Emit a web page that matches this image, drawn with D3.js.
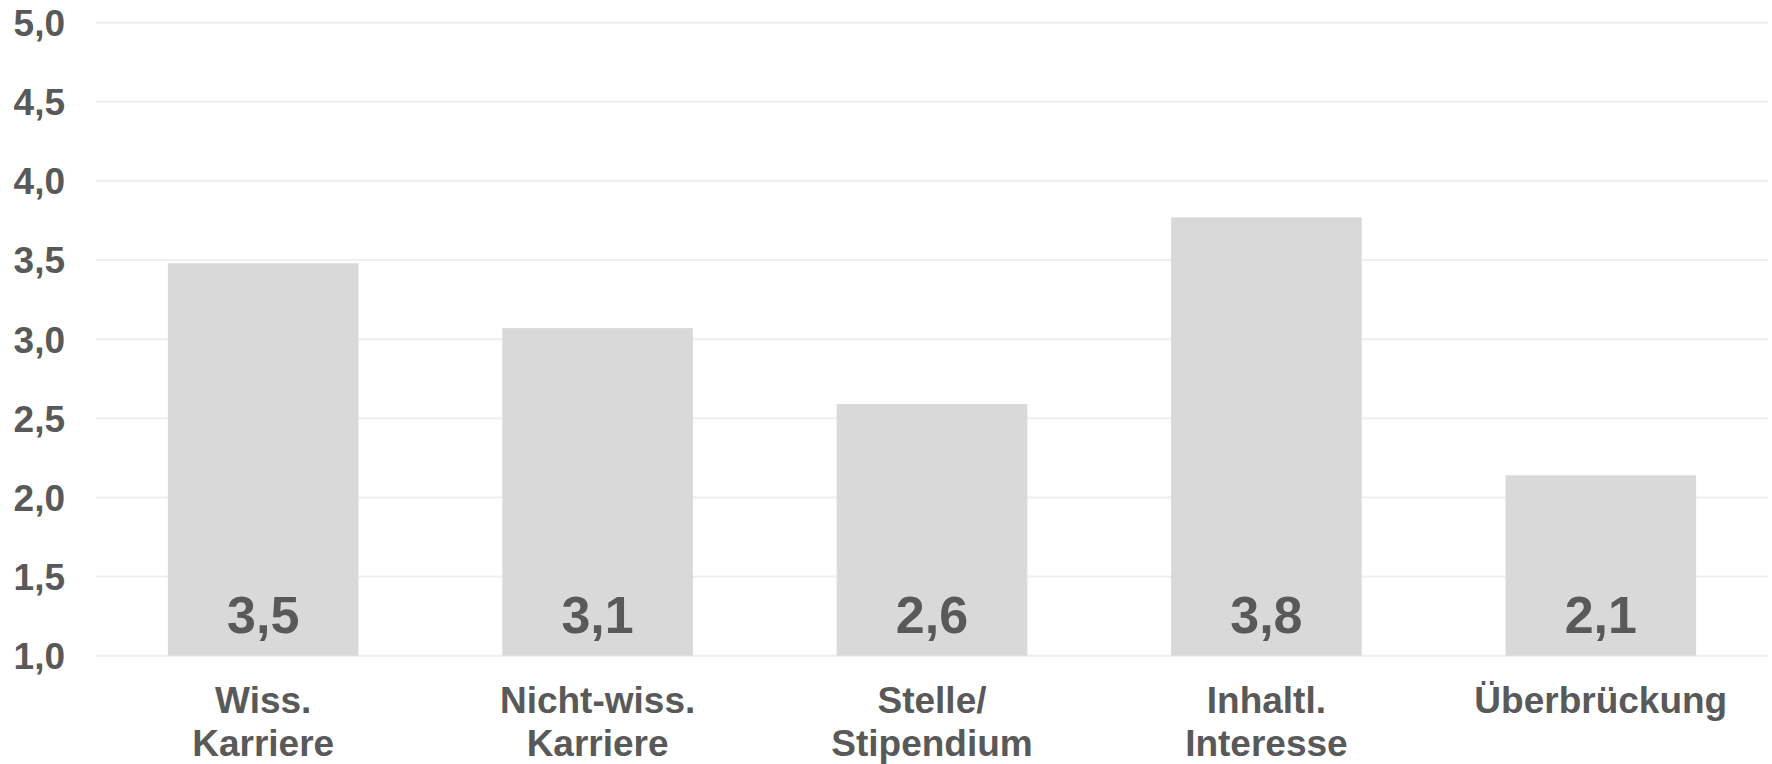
<!DOCTYPE html>
<html>
<head>
<meta charset="utf-8">
<script src="https://cdn.jsdelivr.net/npm/d3@7"></script>
<style>
  html, body { margin: 0; padding: 0; background: #fff; }
  svg text { font-family: "Liberation Sans", Arial, sans-serif; font-weight: bold; fill: #595959; }
</style>
</head>
<body>
<div id="chart"></div>
<script>
// ---- Data ----------------------------------------------------------------
var categories = [['Wiss.', 'Karriere'], ['Nicht-wiss.', 'Karriere'], ['Stelle/', 'Stipendium'], ['Inhaltl.', 'Interesse'], ['Überbrückung']];
var values = [3.48, 3.07, 2.59, 3.77, 2.14];
var valueLabels = ['3,5', '3,1', '2,6', '3,8', '2,1'];
var yTicks = [1.0, 1.5, 2.0, 2.5, 3.0, 3.5, 4.0, 4.5, 5.0];

// ---- Layout --------------------------------------------------------------
var W = 1772, H = 764;
var margin = { top: 22.7, right: 4, bottom: 108.3, left: 96 };

var svg = d3.select('#chart').append('svg')
  .attr('width', W).attr('height', H);

var x = d3.scaleBand()
  .domain(d3.range(categories.length))
  .range([margin.left, W - margin.right])
  .paddingInner(0.43)
  .paddingOuter(0.215);

var y = d3.scaleLinear()
  .domain([1, 5])
  .range([H - margin.bottom, margin.top]);

// gridlines
svg.append('g')
  .selectAll('line')
  .data(yTicks)
  .join('line')
  .attr('x1', margin.left).attr('x2', W - margin.right)
  .attr('y1', function(d) { return y(d); })
  .attr('y2', function(d) { return y(d); })
  .attr('stroke', '#efefef')
  .attr('stroke-width', 2);

// y tick labels
svg.append('g')
  .selectAll('text')
  .data(yTicks)
  .join('text')
  .attr('x', 65)
  .attr('y', function(d) { return y(d); })
  .attr('dy', '0.36em')
  .attr('text-anchor', 'end')
  .style('font-size', '37px')
  .text(function(d) { return d3.format('.1f')(d).replace('.', ','); });

// bars
svg.append('g')
  .selectAll('rect')
  .data(values)
  .join('rect')
  .attr('x', function(d, i) { return x(i); })
  .attr('width', x.bandwidth())
  .attr('y', function(d) { return y(d); })
  .attr('height', function(d) { return y(1) - y(d); })
  .attr('fill', '#d9d9d9');

// value labels inside bars, near the base
svg.append('g')
  .selectAll('text')
  .data(valueLabels)
  .join('text')
  .attr('x', function(d, i) { return x(i) + x.bandwidth() / 2; })
  .attr('y', y(1) - 22.7)
  .attr('text-anchor', 'middle')
  .style('font-size', '52px')
  .text(function(d) { return d; });

// category labels
var cat = svg.append('g')
  .selectAll('text')
  .data(categories)
  .join('text')
  .attr('x', function(d, i) { return x(i) + x.bandwidth() / 2; })
  .attr('y', y(1) + 57.6)
  .attr('text-anchor', 'middle')
  .style('font-size', '37px');

cat.selectAll('tspan')
  .data(function(d) { return d; })
  .join('tspan')
  .attr('x', function() { return d3.select(this.parentNode).attr('x'); })
  .attr('dy', function(d, i) { return i === 0 ? 0 : 43; })
  .text(function(d) { return d; });
</script>
</body>
</html>
